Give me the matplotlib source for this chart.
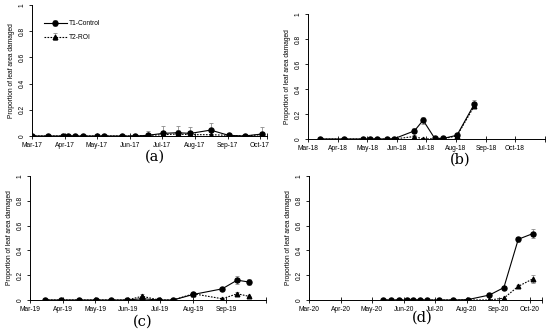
import numpy as np
import pandas as pd
import matplotlib
matplotlib.use("Agg")
import matplotlib.pyplot as plt
from matplotlib import font_manager

# ---- data ----
dates_a = ["2017-03-01", "2017-03-16", "2017-03-30", "2017-04-04", "2017-04-10", "2017-04-18",
           "2017-05-01", "2017-05-08", "2017-05-25", "2017-06-06", "2017-06-18", "2017-07-02",
           "2017-07-16", "2017-07-28", "2017-08-16", "2017-09-02", "2017-09-17", "2017-10-03"]
t1_a = [0, 0, 0, 0, 0, 0, 0, 0, 0, 0, 0.005, 0.02, 0.025, 0.02, 0.045, 0.005, 0, 0.015]
t2_a = [0, 0, 0, 0, 0, 0, 0, 0, 0, 0, 0.005, 0.01, 0.015, 0.01, 0.01, 0.005, 0, 0.01]
e1_a = [0, 0, 0, 0, 0, 0, 0, 0, 0, 0, 0.03, 0.06, 0.05, 0.045, 0.055, 0.005, 0, 0.05]
e2_a = [0, 0, 0, 0, 0, 0, 0, 0, 0, 0, 0.01, 0.03, 0.03, 0.03, 0.03, 0.005, 0, 0.02]

dates_b = ["2018-03-13", "2018-04-07", "2018-04-27", "2018-05-04", "2018-05-11", "2018-05-22",
           "2018-05-29", "2018-06-19", "2018-06-28", "2018-07-10", "2018-07-19", "2018-08-02",
           "2018-08-20"]
t1_b = [0, 0, 0, 0, 0, 0, 0.002, 0.065, 0.15, 0.005, 0.005, 0.03, 0.28]
t2_b = [0, 0, 0, 0, 0, 0, 0, 0.02, 0.0, 0.003, 0.003, 0.025, 0.265]
e1_b = [0, 0, 0, 0, 0, 0, 0, 0.02, 0.03, 0, 0, 0.005, 0.03]
e2_b = [0, 0, 0, 0, 0, 0, 0, 0.01, 0, 0, 0, 0.005, 0.02]

dates_c = ["2019-03-15", "2019-03-30", "2019-04-16", "2019-05-02", "2019-05-16", "2019-05-31",
           "2019-06-14", "2019-06-30", "2019-07-13", "2019-08-01", "2019-08-28", "2019-09-11",
           "2019-09-22"]
t1_c = [0, 0, 0, 0, 0, 0, 0.01, 0, 0, 0.045, 0.09, 0.16, 0.145]
t2_c = [0, 0, 0, 0, 0, 0, 0.03, 0, 0, 0.05, 0.01, 0.05, 0.03]
e1_c = [0, 0, 0, 0, 0, 0, 0.01, 0, 0, 0.01, 0.005, 0.03, 0.025]
e2_c = [0, 0, 0, 0, 0, 0, 0.015, 0, 0, 0.01, 0.005, 0.015, 0.005]

dates_d = ["2020-05-12", "2020-05-20", "2020-05-27", "2020-06-04", "2020-06-10", "2020-06-17",
           "2020-06-23", "2020-07-05", "2020-07-19", "2020-08-02", "2020-08-23", "2020-09-06",
           "2020-09-20", "2020-10-04"]
t1_d = [0, 0, 0, 0, 0, 0, 0, 0, 0, 0.003, 0.04, 0.1, 0.49, 0.535]
t2_d = [0, 0, 0, 0, 0, 0, 0, 0, 0, 0, 0, 0.015, 0.11, 0.17]
e1_d = [0, 0, 0, 0, 0, 0, 0, 0, 0, 0, 0.005, 0.01, 0.02, 0.035]
e2_d = [0, 0, 0, 0, 0, 0, 0, 0, 0, 0, 0, 0.005, 0.015, 0.03]

months = ["Mar", "Apr", "May", "Jun", "Jul", "Aug", "Sep", "Oct"]

# narrow sans to stand in for Calibri, if there is one
names = {f.name for f in font_manager.fontManager.ttflist}
if "Liberation Sans Narrow" in names:
    SANS = ["Liberation Sans Narrow", "DejaVu Sans"]
    FS = 5.6
else:
    SANS = ["Liberation Sans", "DejaVu Sans"]
    FS = 4.8
plt.rcParams["font.family"] = SANS

W, H = 550, 336
fig = plt.figure(figsize=(W / 100, H / 100), dpi=100)


def px_axes(left, right, top, bottom):
    return fig.add_axes([left / W, 1 - bottom / H, (right - left) / W, (bottom - top) / H])


def panel(ax, year, dates, t1, t2, e1, e2, x_end, n_labels, caption, cap_xy):
    start = pd.Timestamp(f"{year}-03-01")
    x = (pd.to_datetime(dates) - start).days.values
    ax.errorbar(x, t2, yerr=e2, color="black", ls=(0, (1.5, 1.2)), lw=0.8, marker="^", ms=3.3,
                ecolor="0.55", elinewidth=0.6, capsize=1.5, capthick=0.6, label="T2-ROI")
    ax.errorbar(x, t1, yerr=e1, color="black", ls="-", lw=0.8, marker="o", ms=3.6,
                ecolor="0.55", elinewidth=0.6, capsize=1.5, capthick=0.6, label="T1-Control")
    ticks = [(pd.Timestamp(f"{year}-{m:02d}-01") - start).days for m in range(3, 11)]
    labels = [f"{mo}-{year % 100}" for mo in months]
    ticks = ticks[:n_labels] + [x_end]
    labels = labels[:n_labels] + [""]
    ax.set_xticks(ticks)
    ax.set_xticklabels(labels, fontsize=FS)
    ax.set_xlim(0, x_end)
    ax.set_ylim(0, 1)
    ax.set_yticks([0, 0.2, 0.4, 0.6, 0.8, 1])
    ax.set_yticklabels(["0", "0.2", "0.4", "0.6", "0.8", "1"], fontsize=FS, rotation=90, va="center")
    ax.tick_params(axis="x", direction="inout", length=4, width=0.6, pad=2)
    ax.tick_params(axis="y", direction="out", length=2.5, width=0.6, pad=2)
    for s in ("top", "right"):
        ax.spines[s].set_visible(False)
    for s in ("left", "bottom"):
        ax.spines[s].set_linewidth(0.7)
    ax.set_ylabel("Proportion of leaf area damaged", fontsize=FS, labelpad=3)
    fig.text(cap_xy[0] / W, 1 - cap_xy[1] / H, caption, family="DejaVu Serif",
             fontsize=10.5, ha="center", va="center")


ax_a = px_axes(32, 267, 5, 136)
panel(ax_a, 2017, dates_a, t1_a, t2_a, e1_a, e2_a, 221, 8, "(a)", (155, 157))
h, l = ax_a.get_legend_handles_labels()
ax_a.legend(h[::-1], l[::-1], loc="upper left", bbox_to_anchor=(0.025, 0.93), frameon=False,
            fontsize=FS, handlelength=3.4, handletextpad=0.3, labelspacing=1.0)

ax_b = px_axes(308, 545, 14, 139)
panel(ax_b, 2018, dates_b, t1_b, t2_b, e1_b, e2_b, 245, 8, "(b)", (460, 160))

ax_c = px_axes(30, 266, 176, 300)
panel(ax_c, 2019, dates_c, t1_c, t2_c, e1_c, e2_c, 221, 7, "(c)", (143, 322))

ax_d = px_axes(309, 542, 176, 300)
panel(ax_d, 2020, dates_d, t1_d, t2_d, e1_d, e2_d, 226, 8, "(d)", (422, 318))

fig.savefig("out.png", dpi=100)
